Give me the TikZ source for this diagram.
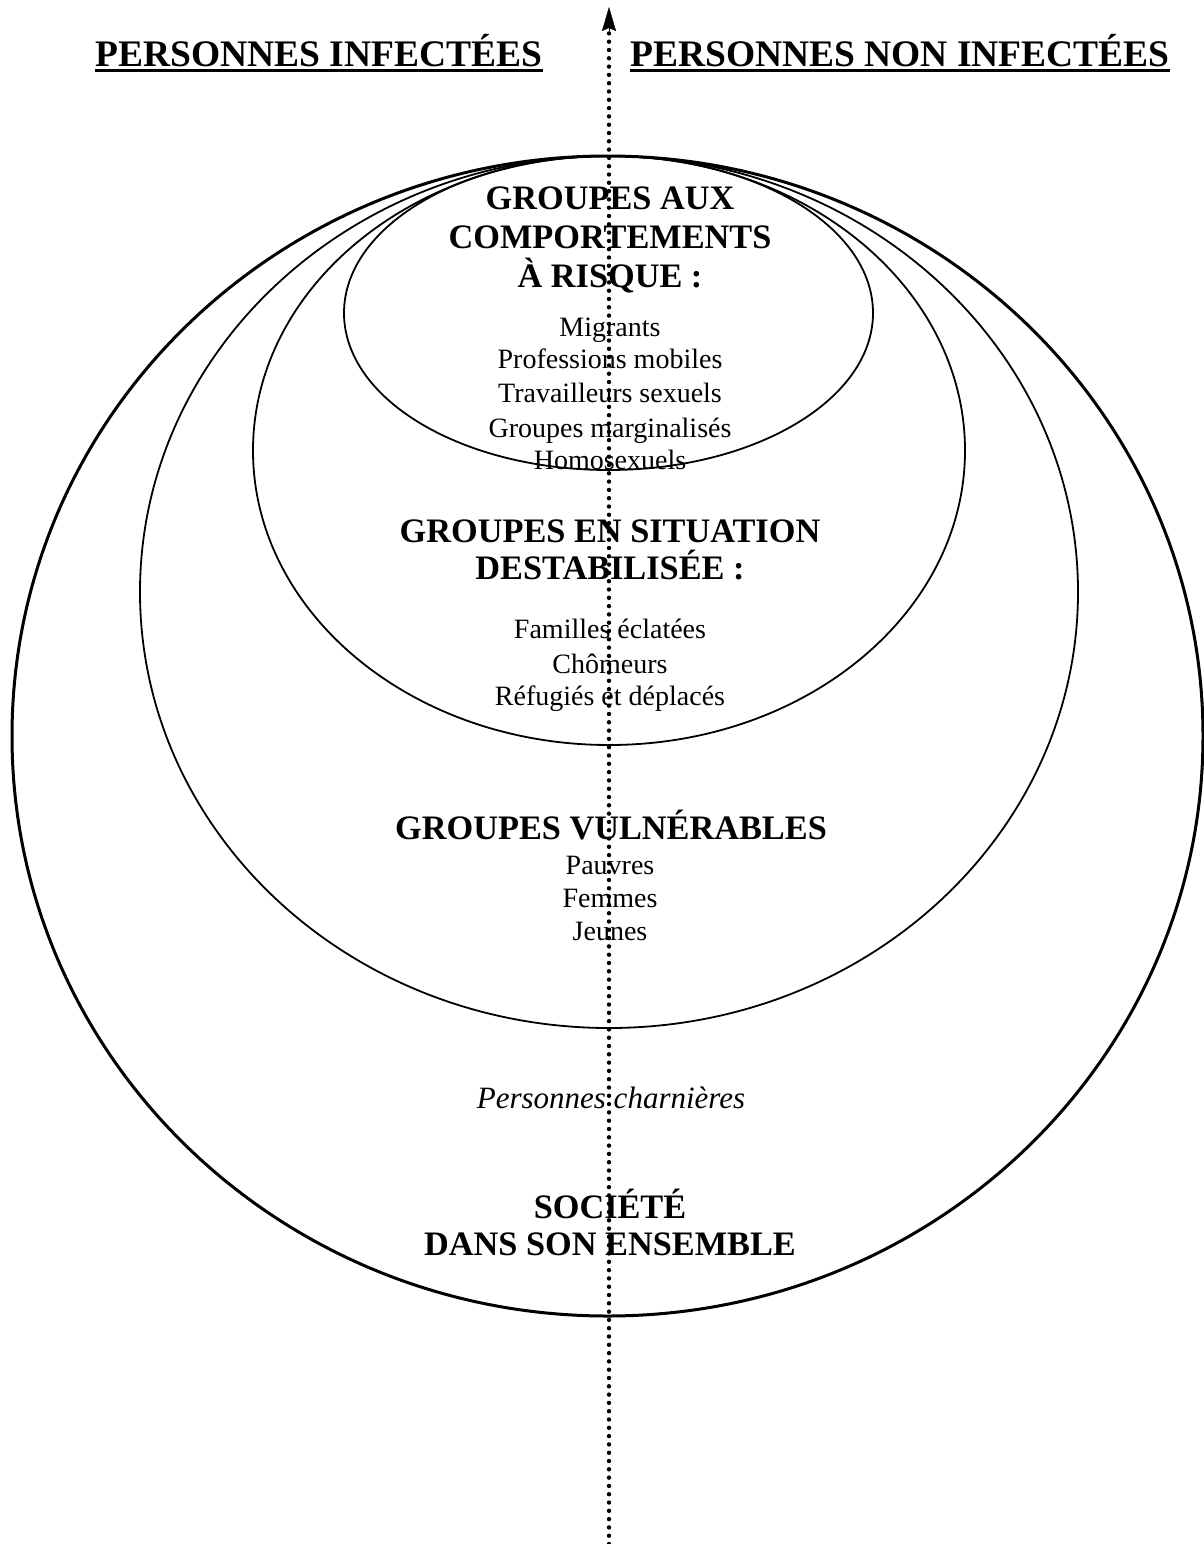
\documentclass[tikz,border=0pt]{standalone}
\usepackage{fontspec}
\setmainfont{Liberation Serif}
\usetikzlibrary{arrows.meta}
\begin{document}
\begin{tikzpicture}[x=1pt,y=-1pt,
  ring/.style={line width=1.8pt},
  outerring/.style={line width=3pt},
  hdr/.style={anchor=base, inner sep=0pt, font=\fontsize{37.5}{40}\selectfont\bfseries},
  ttl/.style={anchor=base, inner sep=0pt, font=\fontsize{34.3}{38}\selectfont\bfseries},
  itm/.style={anchor=base, inner sep=0pt, font=\fontsize{28}{32}\selectfont},
  itl/.style={anchor=base, inner sep=0pt, font=\fontsize{31}{34}\selectfont\itshape},
  uline/.style={line width=3pt},
  dotline/.style={line width=4.4pt, line cap=round, dash pattern=on 0pt off 8.3pt}]
\useasboundingbox (0,0) rectangle (1204,1544);
% ellipses
\draw[outerring] (607.5,736) ellipse [x radius=595.5pt, y radius=580pt];
\draw[ring] (609,592) ellipse [x radius=469pt, y radius=436pt];
\draw[ring] (609,450.5) ellipse [x radius=356pt, y radius=294.5pt];
\draw[ring] (608.5,313) ellipse [x radius=264.5pt, y radius=157pt];
% headers
\node[hdr] (h1) at (319,67) {PERSONNES INFECTÉES};
\node[hdr] (h2) at (900,67) {PERSONNES NON INFECTÉES};
\draw[uline] ([yshift=-3.5pt]h1.base west) -- ([yshift=-3.5pt]h1.base east);
\draw[uline] ([yshift=-3.5pt]h2.base west) -- ([yshift=-3.5pt]h2.base east);
% risk group
\node[ttl] (r1) at (610,209) {GROUPES AUX};
\node[ttl] (r2) at (610,248) {COMPORTEMENTS};
\node[ttl] (r3) at (610,287) {À RISQUE :};
\node[itm] (ra) at (610,336) {Migrants};
\node[itm] (rb) at (610,368) {Professions mobiles};
\node[itm] (rc) at (610,402) {Travailleurs sexuels};
\node[itm] (rd) at (610,437) {Groupes marginalisés};
\node[itm] (re) at (610,469) {Homosexuels};
% destabilised
\node[ttl] (d1) at (610,542) {GROUPES EN SITUATION};
\node[ttl] (d2) at (610,579) {DESTABILISÉE :};
\node[itm] (da) at (610,638) {Familles éclatées};
\node[itm] (db) at (610,673) {Chômeurs};
\node[itm] (dc) at (610,705) {Réfugiés et déplacés};
% vulnerable
\node[ttl] (v1) at (611,839) {GROUPES VULNÉRABLES};
\node[itm] (va) at (610,874) {Pauvres};
\node[itm] (vb) at (610,907) {Femmes};
\node[itm] (vc) at (610,940) {Jeunes};
% society
\node[itl] (pc) at (611,1108) {Personnes charnières};
\node[ttl] (s1) at (610,1218) {SOCIÉTÉ};
\node[ttl] (s2) at (610,1255) {DANS SON ENSEMBLE};
% axis
\coordinate (arrbot) at (609,1544);
\coordinate (arrmid) at (609,31);
\coordinate (arrtop) at (609,7);
\draw[dotline] (arrbot) -- (arrmid);
\draw[line width=0.4pt, -{Stealth[length=24pt, width=14pt, inset=3pt]}] (arrmid) -- (arrtop);
\end{tikzpicture}
\end{document}
